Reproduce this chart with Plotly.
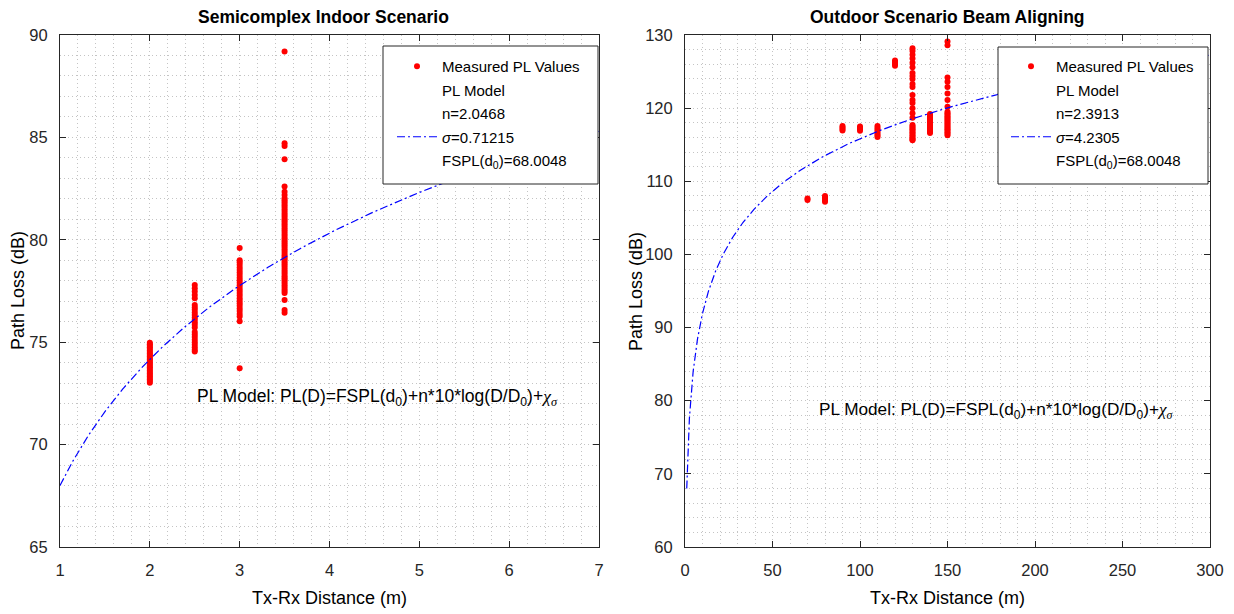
import numpy as np
import plotly.graph_objects as go

# ---------------- data: indoor ----------------
indoor_dist = [2.0, 2.5, 3.0, 3.5]
indoor_pl = [
    [73.02, 73.1, 73.18, 73.25, 73.33, 73.4, 73.47, 73.55, 73.62, 73.7, 73.78, 73.85, 73.93,
     74.0, 74.08, 74.15, 74.23, 74.3, 74.38, 74.45, 74.52, 74.6, 74.68, 74.75, 74.83, 74.9, 74.97],
    [77.79, 77.63, 77.47, 77.31, 77.14, 76.82, 76.7, 76.58, 76.45, 76.33, 76.2, 76.1, 75.98,
     75.85, 75.72, 75.5, 75.38, 75.25, 75.12, 75.0, 74.88, 74.75, 74.63, 74.55],
    [79.6, 79.0, 78.9, 78.78, 78.65, 78.52, 78.4, 78.28, 78.15, 78.02, 77.9, 77.78, 77.65,
     77.52, 77.4, 77.28, 77.15, 77.02, 76.9, 76.78, 76.65, 76.52, 76.38, 76.25, 76.02, 73.73],
    [89.2, 84.71, 84.58, 83.93, 82.6, 82.35, 82.19, 82.03, 81.93, 81.83, 81.72, 81.62, 81.52,
     81.42, 81.31, 81.21, 81.11, 81.0, 80.9, 80.8, 80.7, 80.59, 80.49, 80.39, 80.28, 80.18,
     80.08, 79.97, 79.87, 79.77, 79.67, 79.56, 79.46, 79.36, 79.25, 79.15, 79.05, 78.94, 78.84,
     78.74, 78.64, 78.53, 78.43, 78.33, 78.22, 78.12, 78.02, 77.91, 77.81, 77.71, 77.6, 77.5,
     77.4, 77.06, 76.57, 76.44],
]
indoor_n = 2.0468
indoor_sigma = "0.71215"
indoor_fspl = 68.0048

# ---------------- data: outdoor ----------------
outdoor_dist = [70, 80, 90, 100, 110, 120, 130, 140, 150]
outdoor_pl = [
    [107.45, 107.65],
    [107.2, 107.4, 107.6, 107.8, 108.0],
    [116.95, 117.15, 117.35, 117.55],
    [116.9, 117.1, 117.3, 117.5],
    [116.05, 116.3, 116.55, 116.8, 117.05, 117.3, 117.55],
    [125.8, 126.05, 126.3, 126.5],
    [128.2, 127.8, 127.3, 126.8, 126.2, 125.6, 124.8, 124.4, 124.0, 123.3, 122.9, 121.8, 121.1,
     120.7, 120.0, 119.3, 118.7, 117.7, 117.5, 117.3, 117.1, 116.9, 116.7, 116.5, 116.3, 116.1,
     115.9, 115.7, 115.6],
    [116.6, 116.8, 117.0, 117.2, 117.4, 117.6, 117.8, 118.0, 118.2, 118.4, 118.6, 118.8, 119.0, 119.2],
    [129.1, 128.6, 124.2, 123.6, 122.9, 122.0, 121.1, 120.2, 119.5, 119.3, 119.1, 118.9, 118.7,
     118.5, 118.3, 118.1, 117.9, 117.7, 117.5, 117.3, 117.1, 116.9, 116.7, 116.5, 116.3],
]
outdoor_n = 2.3913
outdoor_sigma = "4.2305"
outdoor_fspl = 68.0048

FONT = "Liberation Sans, Arial, sans-serif"
AX = "#262626"
BLUE_DASH = "8px,3px,2px,3px"
W, H = 1234, 614


def flatten(dists, groups):
    xs, ys = [], []
    for d, g in zip(dists, groups):
        xs += [d] * len(g)
        ys += g
    return xs, ys


fig = go.Figure()


def add_panel(dists, groups, n, sigma, fspl, xrng, xref, yref, legend):
    xs, ys = flatten(dists, groups)
    fig.add_trace(go.Scatter(x=xs, y=ys, mode="markers", name="Measured PL Values",
                             marker=dict(color="#ff0000", size=6, line=dict(width=0)),
                             xaxis=xref, yaxis=yref, legend=legend, legendgroup=legend + "a"))
    fig.add_trace(go.Scatter(x=[None], y=[None], mode="lines", name="PL Model",
                             line=dict(color="rgba(0,0,0,0)", width=1),
                             xaxis=xref, yaxis=yref, legend=legend, legendgroup=legend + "b"))
    fig.add_trace(go.Scatter(x=[None], y=[None], mode="lines", name=f"n={n}",
                             line=dict(color="rgba(0,0,0,0)", width=1),
                             xaxis=xref, yaxis=yref, legend=legend, legendgroup=legend + "c"))
    cx = np.geomspace(xrng[0], xrng[1], 400)
    cy = fspl + 10 * n * np.log10(cx)
    fig.add_trace(go.Scatter(x=cx, y=cy, mode="lines", name=f"<i>σ</i>={sigma}",
                             line=dict(color="#0000ff", width=1.2, dash=BLUE_DASH),
                             xaxis=xref, yaxis=yref, legend=legend, legendgroup=legend + "d"))
    fig.add_trace(go.Scatter(x=[None], y=[None], mode="lines",
                             name=f"FSPL(d<sub>0</sub>)={fspl}",
                             line=dict(color="rgba(0,0,0,0)", width=1),
                             xaxis=xref, yaxis=yref, legend=legend, legendgroup=legend + "e"))


add_panel(indoor_dist, indoor_pl, indoor_n, indoor_sigma, indoor_fspl, (1, 7), "x", "y", "legend")
add_panel(outdoor_dist, outdoor_pl, outdoor_n, outdoor_sigma, outdoor_fspl, (1, 300), "x2", "y2", "legend2")

yd = [1 - 547 / H, 1 - 35 / H]


def axis_common(dtick, minor_dtick, rng, domain, anchor, standoff):
    return dict(range=rng, domain=domain, anchor=anchor, dtick=dtick, tick0=rng[0],
                automargin=False, ticklabelstandoff=standoff,
                showline=True, linecolor=AX, linewidth=1, mirror="allticks",
                ticks="inside", ticklen=6, tickcolor=AX, tickwidth=1,
                tickfont=dict(family=FONT, size=16.5, color=AX),
                showgrid=True, gridcolor="#c4c4c4", griddash="1px,3px", gridwidth=1,
                minor=dict(dtick=minor_dtick, showgrid=True, gridcolor="#c4c4c4",
                           griddash="1px,3px", gridwidth=1, ticks=""),
                zeroline=False, fixedrange=True)


xa = axis_common(1, 0.2, [1, 7], [60 / W, 599 / W], "y", 8)
ya = axis_common(5, 1, [65, 90], yd, "x", 8)
xa2 = axis_common(50, 10, [0, 300], [685 / W, 1210 / W], "y2", 8)
ya2 = axis_common(10, 2, [60, 130], yd, "x2", 8)

leg_common = dict(bgcolor="rgba(0,0,0,0)", borderwidth=0,
                  font=dict(family=FONT, size=15, color="#000000"),
                  xanchor="left", yanchor="top", itemwidth=40, tracegroupgap=1,
                  itemclick=False, itemdoubleclick=False)

# legend frames (opaque white boxes, like MATLAB's legend box)
shapes = [
    dict(type="rect", xref="paper", yref="paper", x0=383 / W, x1=598 / W,
         y0=1 - 184 / H, y1=1 - 46 / H, fillcolor="white",
         line=dict(color=AX, width=1), layer="above"),
    dict(type="rect", xref="paper", yref="paper", x0=998 / W, x1=1208 / W,
         y0=1 - 184 / H, y1=1 - 47 / H, fillcolor="white",
         line=dict(color=AX, width=1), layer="above"),
]

fig.update_layout(
    width=W, height=H, margin=dict(l=0, r=0, t=0, b=0, autoexpand=False),
    paper_bgcolor="white", plot_bgcolor="white",
    xaxis=xa, yaxis=ya, xaxis2=xa2, yaxis2=ya2,
    legend=dict(x=392 / W, y=1 - 50 / H, **leg_common),
    legend2=dict(x=1006 / W, y=1 - 50 / H, **leg_common),
    showlegend=True, shapes=shapes,
)

ann_font = dict(family=FONT, size=18, color="#000000")
formula = ("PL Model: PL(D)=FSPL(d<sub>0</sub>)+n*10*log(D/D<sub>0</sub>)+"
           "<span style='font-family:Liberation Serif,serif'><i>χ</i><sub><i>σ</i></sub></span>")
annotations = [
    dict(text="<b>Semicomplex Indoor Scenario</b>", x=324 / W, y=1 - 17 / H,
         xref="paper", yref="paper", showarrow=False, xanchor="center", yanchor="middle",
         font=dict(family=FONT, size=17.5, color="#000000")),
    dict(text="<b>Outdoor Scenario Beam Aligning</b>", x=(685 + 1210) / 2 / W, y=1 - 17 / H,
         xref="paper", yref="paper", showarrow=False, xanchor="center", yanchor="middle",
         font=dict(family=FONT, size=17.5, color="#000000")),
    dict(text="Tx-Rx Distance (m)", x=(60 + 599) / 2 / W, y=1 - 598 / H, xref="paper", yref="paper",
         showarrow=False, xanchor="center", yanchor="middle", font=ann_font),
    dict(text="Tx-Rx Distance (m)", x=(685 + 1210) / 2 / W, y=1 - 598 / H, xref="paper", yref="paper",
         showarrow=False, xanchor="center", yanchor="middle", font=ann_font),
    dict(text="Path Loss (dB)", x=18 / W, y=1 - 291 / H, xref="paper", yref="paper",
         showarrow=False, xanchor="center", yanchor="middle", textangle=-90, font=ann_font),
    dict(text="Path Loss (dB)", x=636 / W, y=1 - 291 / H, xref="paper", yref="paper",
         showarrow=False, xanchor="center", yanchor="middle", textangle=-90, font=ann_font),
    dict(text=formula, x=2.5, y=72.3, xref="x", yref="y", showarrow=False,
         xanchor="left", yanchor="middle", font=dict(family=FONT, size=17.5, color="#000000")),
    dict(text=formula, x=75.4, y=78.7, xref="x2", yref="y2", showarrow=False,
         xanchor="left", yanchor="middle", font=dict(family=FONT, size=17.2, color="#000000")),
]
fig.update_layout(annotations=annotations)

fig.write_html("out.html")
